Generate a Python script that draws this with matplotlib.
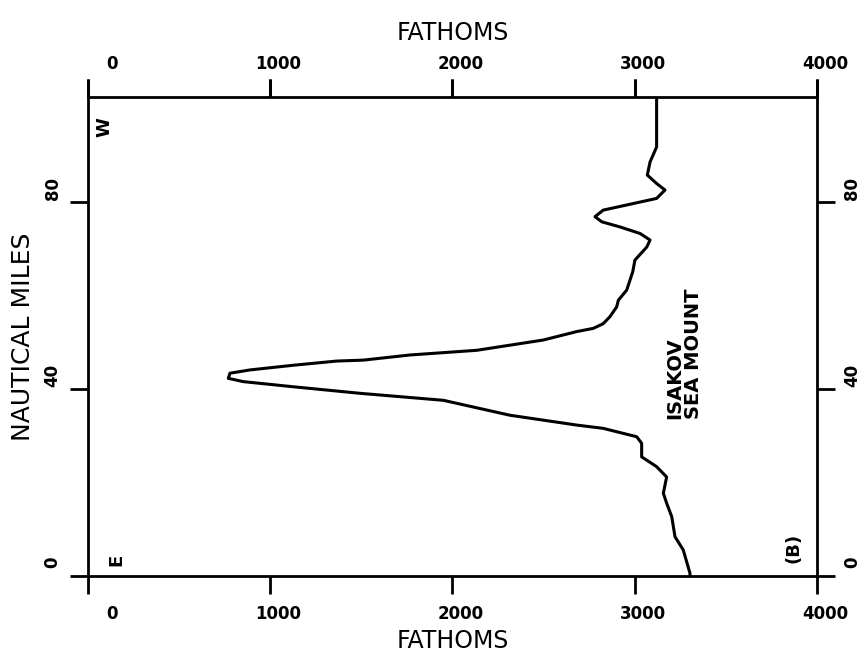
import matplotlib.pyplot as plt
from matplotlib.transforms import ScaledTranslation

# depth profile across Isakov Sea Mount
# (fathoms, nautical miles from the east end)
fathoms = [3303, 3303, 3266, 3221, 3203, 3175, 3157, 3175, 3120, 3038,
           3038, 3011, 2827, 2682, 2316, 1950, 1492, 1126, 852, 770,
           779, 889, 1126, 1365, 1511, 1767, 2133, 2498, 2681, 2773,
           2827, 2864, 2901, 2910, 2956, 2989, 3001, 3066, 3084, 3029,
           2919, 2819, 2782, 2827, 2956, 3120, 3166, 3120, 3069, 3084,
           3120, 3120]
miles = [0.0, 0.6, 5.6, 8.4, 12.7, 15.6, 17.7, 21.2, 23.4, 25.5,
         28.4, 29.8, 31.6, 32.3, 34.4, 37.6, 39.1, 40.5, 41.6, 42.3,
         43.4, 44.1, 45.1, 46.0, 46.2, 47.3, 48.3, 50.5, 52.3, 53.0,
         54.0, 55.5, 57.6, 59.0, 61.2, 65.1, 67.6, 70.4, 71.9, 73.3,
         74.7, 75.8, 76.9, 78.3, 79.4, 80.8, 82.6, 84.0, 85.8, 88.6,
         91.8, 102.5]

x_ticks = [0, 1000, 2000, 3000, 4000]
y_ticks = [0, 40, 80]

fig = plt.figure(figsize=(8.65, 6.65), dpi=100)
ax = fig.add_axes([0.1017, 0.1338, 0.8428, 0.7203])

ax.plot(fathoms, miles, color='black', lw=2.2)

ax.set_xlim(0, 4000)
ax.set_ylim(0, 102.5)
ax.set_xticks(x_ticks)
ax.set_yticks(y_ticks)

for s in ax.spines.values():
    s.set_linewidth(2)

ax.tick_params(axis='both', direction='out', length=13, width=2,
               labelsize=12)
ax.tick_params(axis='x', pad=8, top=True)
ax.tick_params(axis='y', pad=6, right=True, labelright=True,
               labelrotation=90)

# top axis with its own labels
top = ax.secondary_xaxis('top')
top.set_xticks(x_ticks)
top.tick_params(direction='out', length=13, width=2, labelsize=12, pad=4)
top.set_xlabel('FATHOMS', fontsize=17, labelpad=11)

# the old plotter put its numbers a little off the ticks
def shift(dx, dy):
    return ScaledTranslation(dx / 100, dy / 100, fig.dpi_scale_trans)

for axis in (ax.xaxis, top.xaxis):
    ticks = axis.get_major_ticks()
    for i, t in enumerate(ticks):
        dx = 24 if i == 0 else 8
        for lab in (t.label1, t.label2):
            lab.set_fontweight('bold')
            lab.set_transform(lab.get_transform() + shift(dx, 0))
for t in ax.yaxis.get_major_ticks():
    for lab in (t.label1, t.label2):
        lab.set_fontweight('bold')
        lab.set_va('center')
        lab.set_transform(lab.get_transform() + shift(0, 14))

ax.set_xlabel('FATHOMS', fontsize=17, labelpad=4)
ax.set_ylabel('NAUTICAL MILES', fontsize=18, labelpad=6)

ax.text(93, 96, 'W', rotation=90, fontsize=13, fontweight='bold',
        ha='center', va='center')
ax.text(157, 3.4, 'E', rotation=90, fontsize=13, fontweight='bold',
        ha='center', va='center')
ax.text(3869, 6.0, '(B)', rotation=90, fontsize=13, fontweight='bold',
        ha='center', va='center')
ax.text(3270, 33.6, 'ISAKOV\nSEA MOUNT', rotation=90, fontsize=14,
        fontweight='bold', ha='center', va='bottom', multialignment='left',
        linespacing=0.95)

fig.savefig('out.png', dpi=100)
